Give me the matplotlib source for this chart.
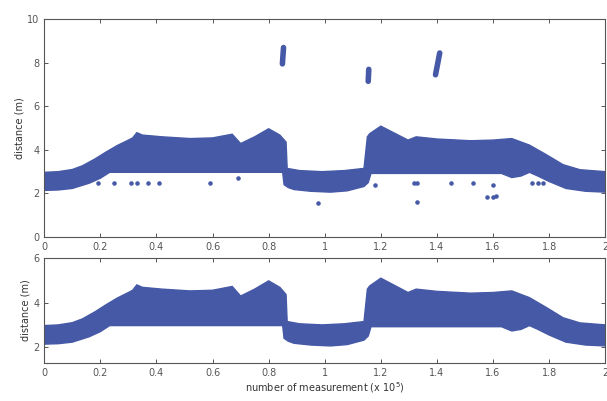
import numpy as np
import matplotlib
matplotlib.use("Agg")
import matplotlib.pyplot as plt

# upper / lower edge of the dense band of measurements (x in 1e5, distance in m)
upper_x = [0, 0.05, 0.10, 0.136, 0.18, 0.22, 0.26, 0.30, 0.315, 0.33, 0.35, 0.42, 0.52, 0.60,
           0.67, 0.70, 0.75, 0.80, 0.84, 0.862, 0.866, 0.91, 0.99, 1.07, 1.14, 1.152, 1.16,
           1.20, 1.297, 1.326, 1.40, 1.52, 1.60, 1.667, 1.73, 1.79, 1.85, 1.91, 2.0]
upper_y = [2.97, 3.0, 3.1, 3.27, 3.58, 3.9, 4.2, 4.45, 4.55, 4.79, 4.68, 4.6, 4.52, 4.55,
           4.72, 4.29, 4.6, 4.97, 4.68, 4.36, 3.15, 3.05, 3.0, 3.05, 3.15, 4.6, 4.74,
           5.09, 4.45, 4.6, 4.5, 4.42, 4.45, 4.52, 4.22, 3.78, 3.32, 3.09, 3.0]
lower_x = [0, 0.05, 0.10, 0.16, 0.20, 0.233, 0.85, 0.855, 0.87, 0.89, 0.95, 1.02, 1.08,
           1.14, 1.155, 1.165, 1.63, 1.667, 1.70, 1.73, 1.76, 1.80, 1.86, 1.93, 2.0]
lower_y = [2.14, 2.16, 2.23, 2.47, 2.7, 2.97, 2.97, 2.4, 2.27, 2.18, 2.1, 2.06, 2.12,
           2.32, 2.5, 2.92, 2.92, 2.73, 2.8, 2.97, 2.8, 2.55, 2.23, 2.1, 2.06]

# isolated outliers (top panel only)
out_x = [0.19, 0.25, 0.31, 0.33, 0.37, 0.41, 0.59, 0.69, 0.975, 1.18, 1.32, 1.33, 1.33,
         1.45, 1.53, 1.60, 1.58, 1.60, 1.61, 1.74, 1.76, 1.78]
out_y = [2.48, 2.48, 2.48, 2.48, 2.48, 2.48, 2.48, 2.7, 1.56, 2.4, 2.48, 2.48, 1.6,
         2.48, 2.48, 2.4, 1.84, 1.84, 1.88, 2.48, 2.48, 2.48]

# reflections far away: short streaks (x0, x1, y0, y1)
streak_x0 = [0.849, 1.155, 1.395]
streak_x1 = [0.853, 1.157, 1.41]
streak_y0 = [7.95, 7.15, 7.45]
streak_y1 = [8.7, 7.7, 8.45]

xticks = [0, 0.2, 0.4, 0.6, 0.8, 1, 1.2, 1.4, 1.6, 1.8, 2]
xticklabels = ["0", "0.2", "0.4", "0.6", "0.8", "1", "1.2", "1.4", "1.6", "1.8", "2"]

blue = "#4659a6"
gray = "#555555"

plt.rcParams["font.family"] = "DejaVu Sans"
fig = plt.figure(figsize=(6.07, 4.01), dpi=100)
ax1 = fig.add_axes([0.073, 0.409, 0.924, 0.543])
ax2 = fig.add_axes([0.073, 0.095, 0.924, 0.262])

band_x = np.concatenate([upper_x, lower_x[::-1]])
band_y = np.concatenate([upper_y, lower_y[::-1]])

for ax in (ax1, ax2):
    ax.fill(band_x, band_y, color=blue, lw=1.0, ec=blue)
    ax.set_xlim(0, 2)
    ax.set_xticks(xticks)
    ax.set_xticklabels(xticklabels)
    ax.tick_params(direction="in", top=True, right=True, labelsize=7,
                   colors=gray, length=3, width=0.7)
    for s in ax.spines.values():
        s.set_color(gray)
        s.set_linewidth(0.8)
    ax.set_ylabel("distance (m)", fontsize=7, color="#333333", labelpad=2)

ax1.plot(out_x, out_y, ".", color=blue, ms=4.5)
for i in range(len(streak_x0)):
    ax1.plot([streak_x0[i], streak_x1[i]], [streak_y0[i], streak_y1[i]],
             color=blue, lw=4, solid_capstyle="round")
ax1.set_ylim(0, 10)
ax1.set_yticks([0, 2, 4, 6, 8, 10])

ax2.set_ylim(1.3, 6)
ax2.set_yticks([2, 4, 6])
ax2.set_xlabel("number of measurement (x 10$^5$)", fontsize=7, color="#333333", labelpad=2)

fig.savefig("out.png", dpi=100)
